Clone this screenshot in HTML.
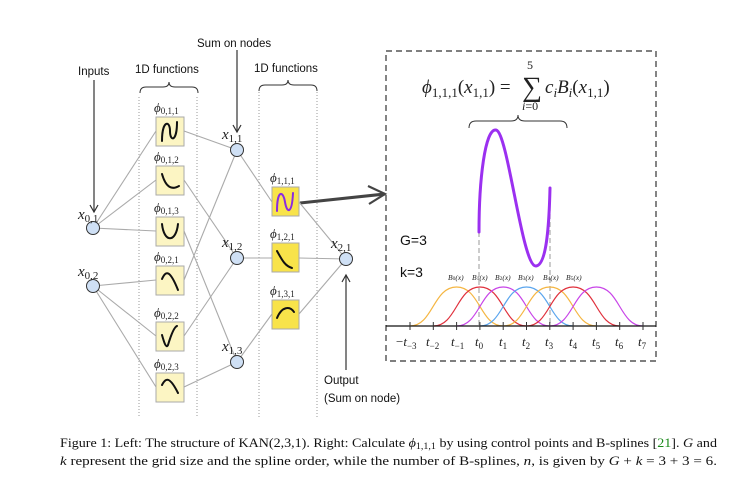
<!DOCTYPE html>
<html><head><meta charset="utf-8"><style>
html,body{margin:0;padding:0;background:#fff;}
svg{display:block;}
.s{font-family:"Liberation Sans",sans-serif;fill:#111;}
.m{font-family:"Liberation Serif",serif;font-style:italic;fill:#222;}
.c{font-family:"Liberation Serif",serif;fill:#111;font-size:12.6px;}
</style></head><body>
<svg width="746" height="486" viewBox="0 0 746 486" xmlns="http://www.w3.org/2000/svg">
<defs>
<marker id="ah" markerWidth="10" markerHeight="10" refX="8" refY="5" orient="auto" markerUnits="userSpaceOnUse">
<path d="M1,1 L8,5 L1,9" fill="none" stroke="#333" stroke-width="1.2"/>
</marker>
</defs>
<g stroke="#ccc" stroke-width="2" stroke-dasharray="1,2">
<line x1="139" y1="97" x2="139" y2="418"/><line x1="197" y1="97" x2="197" y2="418"/>
<line x1="259" y1="92" x2="259" y2="418"/><line x1="317" y1="92" x2="317" y2="418"/>
</g>
<g fill="none" stroke="#333" stroke-width="1">
<path d="M140,93 Q140,87 146,87 L163,87 Q169,87 169,82 Q169,87 175,87 L192,87 Q198,87 198,93"/>
<path d="M259,91 Q259,85 265,85 L282,85 Q288,85 288,80 Q288,85 294,85 L311,85 Q317,85 317,91"/>
<path d="M469,128 Q469,121 476,121 L511,121 Q518,121 518,115 Q518,121 525,121 L560,121 Q567,121 567,128"/>
</g>
<text class="s" x="78" y="75" font-size="11.5">Inputs</text>
<text class="s" x="135" y="73" font-size="11.5">1D functions</text>
<text class="s" x="254" y="72" font-size="11.5">1D functions</text>
<text class="s" x="197" y="47" font-size="11.5">Sum on nodes</text>
<text class="s" x="324" y="384" font-size="11.5">Output</text>
<text class="s" x="324" y="402" font-size="11.5">(Sum on node)</text>
<g stroke="#333" stroke-width="1.2">
<line x1="94" y1="80" x2="94" y2="212" marker-end="url(#ah)"/>
<line x1="237" y1="50" x2="237" y2="132" marker-end="url(#ah)"/>
<line x1="346" y1="370" x2="346" y2="275" marker-end="url(#ah)"/>
</g>
<path d="M300,203 L385,194" stroke="#444" stroke-width="3"/>
<path d="M368,186 L385,194 L369,204" fill="none" stroke="#444" stroke-width="2.2"/>
<g stroke="#aaa" stroke-width="1.1">
<line x1="93" y1="228" x2="156" y2="131"/><line x1="93" y1="228" x2="156" y2="180"/><line x1="93" y1="228" x2="156" y2="231"/>
<line x1="93" y1="286" x2="156" y2="280"/><line x1="93" y1="286" x2="156" y2="336"/><line x1="93" y1="286" x2="156" y2="387"/>
<line x1="184" y1="131" x2="237" y2="150"/><line x1="184" y1="180" x2="237" y2="258"/><line x1="184" y1="231" x2="237" y2="362"/>
<line x1="184" y1="280" x2="237" y2="150"/><line x1="184" y1="336" x2="237" y2="258"/><line x1="184" y1="387" x2="237" y2="362"/>
<line x1="237" y1="150" x2="272" y2="202"/><line x1="237" y1="258" x2="272" y2="258"/><line x1="237" y1="362" x2="272" y2="314"/>
<line x1="299" y1="202" x2="346" y2="259"/><line x1="299" y1="258" x2="346" y2="259"/><line x1="299" y1="314" x2="346" y2="259"/>
</g>
<g fill="#fcf5c3" stroke="#aaa" stroke-width="1">
<rect x="156" y="117" width="28" height="29"/><rect x="156" y="166" width="28" height="29"/><rect x="156" y="217" width="28" height="29"/>
<rect x="156" y="266" width="28" height="29"/><rect x="156" y="322" width="28" height="29"/><rect x="156" y="373" width="28" height="29"/>
</g>
<g fill="#f8e34a" stroke="#aaa" stroke-width="1">
<rect x="272" y="187" width="27" height="29"/><rect x="272" y="243" width="27" height="29"/><rect x="272" y="300" width="27" height="29"/>
</g>
<g fill="none" stroke="#111" stroke-width="2" stroke-linecap="round">
<path d="M162,141 C162,120 170,120 170,131 C170,142 177,142 177,122"/>
<path d="M162,174 C166,188 172,190 179,186"/>
<path d="M162,224 C164,243 176,243 178,224"/>
<path d="M162,279 C166,270 170,270 178,290"/>
<path d="M162,335 C164,342 166,349 168,345 C171,335 174,327 177,326"/>
<path d="M162,385 C166,377 170,377 178,393"/>
<path d="M277,251 C282,260 285,266 292,268"/>
<path d="M277,318 C282,306 290,306 294,312"/>
</g>
<path d="M277,211 C277,190 283,190 285,202 C287,214 292,214 293,193" fill="none" stroke="#8a2be2" stroke-width="2" stroke-linecap="round"/>
<g fill="#cfe0f5" stroke="#333" stroke-width="1">
<circle cx="93" cy="228" r="6.5"/><circle cx="93" cy="286" r="6.5"/>
<circle cx="237" cy="150" r="6.5"/><circle cx="237" cy="258" r="6.5"/><circle cx="237" cy="362" r="6.5"/>
<circle cx="346" cy="259" r="6.5"/>
</g>
<g class="m">
<text x="78" y="219" font-size="15">x<tspan font-style="normal" font-size="11" dy="3">0,1</tspan></text>
<text x="78" y="276" font-size="15">x<tspan font-style="normal" font-size="11" dy="3">0,2</tspan></text>
<text x="222" y="139" font-size="15">x<tspan font-style="normal" font-size="11" dy="3">1,1</tspan></text>
<text x="222" y="247" font-size="15">x<tspan font-style="normal" font-size="11" dy="3">1,2</tspan></text>
<text x="222" y="351" font-size="15">x<tspan font-style="normal" font-size="11" dy="3">1,3</tspan></text>
<text x="331" y="248" font-size="15">x<tspan font-style="normal" font-size="11" dy="3">2,1</tspan></text>
<g font-size="13">
<text x="154" y="112">ϕ<tspan font-style="normal" font-size="9" dy="2">0,1,1</tspan></text>
<text x="154" y="161">ϕ<tspan font-style="normal" font-size="9" dy="2">0,1,2</tspan></text>
<text x="154" y="212">ϕ<tspan font-style="normal" font-size="9" dy="2">0,1,3</tspan></text>
<text x="154" y="261">ϕ<tspan font-style="normal" font-size="9" dy="2">0,2,1</tspan></text>
<text x="154" y="317">ϕ<tspan font-style="normal" font-size="9" dy="2">0,2,2</tspan></text>
<text x="154" y="368">ϕ<tspan font-style="normal" font-size="9" dy="2">0,2,3</tspan></text>
<text x="270" y="182">ϕ<tspan font-style="normal" font-size="9" dy="2">1,1,1</tspan></text>
<text x="270" y="238">ϕ<tspan font-style="normal" font-size="9" dy="2">1,2,1</tspan></text>
<text x="270" y="295">ϕ<tspan font-style="normal" font-size="9" dy="2">1,3,1</tspan></text>
</g>
</g>
<rect x="386" y="51" width="270" height="310" fill="none" stroke="#333" stroke-width="1.2" stroke-dasharray="6,4"/>
<g class="m" font-size="19">
<text x="422" y="93">ϕ<tspan font-style="normal" font-size="13" dy="4">1,1,1</tspan><tspan font-style="normal" dy="-4">(</tspan>x<tspan font-style="normal" font-size="13" dy="4">1,1</tspan><tspan font-style="normal" dy="-4">) =</tspan></text>
<text x="522" y="96" font-style="normal" font-size="28">∑</text>
<text x="527" y="69" font-style="normal" font-size="12">5</text>
<text x="522" y="110" font-size="12">i<tspan font-style="normal">=0</tspan></text>
<text x="545" y="93">c<tspan font-size="13" dy="4">i</tspan><tspan dy="-4">B</tspan><tspan font-size="13" dy="4">i</tspan><tspan font-style="normal" dy="-4">(</tspan>x<tspan font-style="normal" font-size="13" dy="4">1,1</tspan><tspan font-style="normal" dy="-4">)</tspan></text>
</g>
<text class="s" x="400" y="245" font-size="14">G=3</text>
<text class="s" x="400" y="277" font-size="14">k=3</text>
<g stroke="#aaa" stroke-width="1.2" stroke-dasharray="5,3">
<line x1="479" y1="232" x2="479" y2="326"/><line x1="550" y1="190" x2="550" y2="326"/>
</g>
<path d="M479,232 C479,180 485,128 496,130 C508,132 522,267 536,266 C546,265 549,230 550,188" fill="none" stroke="#9b30f0" stroke-width="3" stroke-linecap="round"/>
<g fill="none" stroke-width="1.2">
<path d="M410,326 C433,326 433,287 456.6,287 C480,287 480,326 503.2,326" stroke="#f5b642"/>
<path d="M433.3,326 C456.6,326 456.6,287 479.9,287 C503.2,287 503.2,326 526.5,326" stroke="#e0303c"/>
<path d="M456.6,326 C479.9,326 479.9,287 503.2,287 C526.5,287 526.5,326 549.8,326" stroke="#c844e8"/>
<path d="M479.9,326 C503.2,326 503.2,287 526.5,287 C549.8,287 549.8,326 573.1,326" stroke="#5aa5ee"/>
<path d="M503.2,326 C526.5,326 526.5,287 549.8,287 C573.1,287 573.1,326 596.4,326" stroke="#f5b642"/>
<path d="M526.5,326 C549.8,326 549.8,287 573.1,287 C596.4,287 596.4,326 619.7,326" stroke="#e0303c"/>
<path d="M549.8,326 C573.1,326 573.1,287 596.4,287 C619.7,287 619.7,326 643,326" stroke="#c844e8"/>
</g>
<g class="m" font-size="7.5" fill="#222">
<text x="448" y="280">B<tspan font-style="normal" font-size="5.5">0</tspan>(x)</text>
<text x="472" y="280">B<tspan font-style="normal" font-size="5.5">1</tspan>(x)</text>
<text x="495" y="280">B<tspan font-style="normal" font-size="5.5">2</tspan>(x)</text>
<text x="518" y="280">B<tspan font-style="normal" font-size="5.5">3</tspan>(x)</text>
<text x="543" y="280">B<tspan font-style="normal" font-size="5.5">4</tspan>(x)</text>
<text x="566" y="280">B<tspan font-style="normal" font-size="5.5">5</tspan>(x)</text>
</g>
<line x1="386" y1="326" x2="656" y2="326" stroke="#111" stroke-width="1.2"/>
<g stroke="#333" stroke-width="1">
<line x1="410" y1="322" x2="410" y2="330"/><line x1="433.3" y1="322" x2="433.3" y2="330"/><line x1="456.6" y1="322" x2="456.6" y2="330"/>
<line x1="479.9" y1="322" x2="479.9" y2="330"/><line x1="503.2" y1="322" x2="503.2" y2="330"/><line x1="526.5" y1="322" x2="526.5" y2="330"/>
<line x1="549.8" y1="322" x2="549.8" y2="330"/><line x1="573.1" y1="322" x2="573.1" y2="330"/><line x1="596.4" y1="322" x2="596.4" y2="330"/>
<line x1="619.7" y1="322" x2="619.7" y2="330"/><line x1="643" y1="322" x2="643" y2="330"/>
</g>
<g class="m" font-size="13">
<text x="396" y="346"><tspan font-style="normal">−</tspan>t<tspan font-style="normal" font-size="9" dy="3">−3</tspan></text>
<text x="426" y="346">t<tspan font-style="normal" font-size="9" dy="3">−2</tspan></text>
<text x="451" y="346">t<tspan font-style="normal" font-size="9" dy="3">−1</tspan></text>
<text x="475" y="346">t<tspan font-style="normal" font-size="9" dy="3">0</tspan></text>
<text x="499" y="346">t<tspan font-style="normal" font-size="9" dy="3">1</tspan></text>
<text x="522" y="346">t<tspan font-style="normal" font-size="9" dy="3">2</tspan></text>
<text x="545" y="346">t<tspan font-style="normal" font-size="9" dy="3">3</tspan></text>
<text x="569" y="346">t<tspan font-style="normal" font-size="9" dy="3">4</tspan></text>
<text x="592" y="346">t<tspan font-style="normal" font-size="9" dy="3">5</tspan></text>
<text x="615" y="346">t<tspan font-style="normal" font-size="9" dy="3">6</tspan></text>
<text x="638" y="346">t<tspan font-style="normal" font-size="9" dy="3">7</tspan></text>
</g>
<text class="c" x="60" y="447" textLength="657" lengthAdjust="spacingAndGlyphs">Figure 1: Left: The structure of KAN(2,3,1). Right: Calculate <tspan font-style="italic">ϕ</tspan><tspan font-size="9" dy="2">1,1,1</tspan><tspan dy="-2"> by using control points and B-splines [</tspan><tspan fill="#1a8a1a">21</tspan>]. <tspan font-style="italic">G</tspan> and</text>
<text class="c" x="60" y="465" textLength="657" lengthAdjust="spacingAndGlyphs"><tspan font-style="italic">k</tspan> represent the grid size and the spline order, while the number of B-splines, <tspan font-style="italic">n</tspan>, is given by <tspan font-style="italic">G</tspan> + <tspan font-style="italic">k</tspan> = 3 + 3 = 6.</text>
</svg>
</body></html>
